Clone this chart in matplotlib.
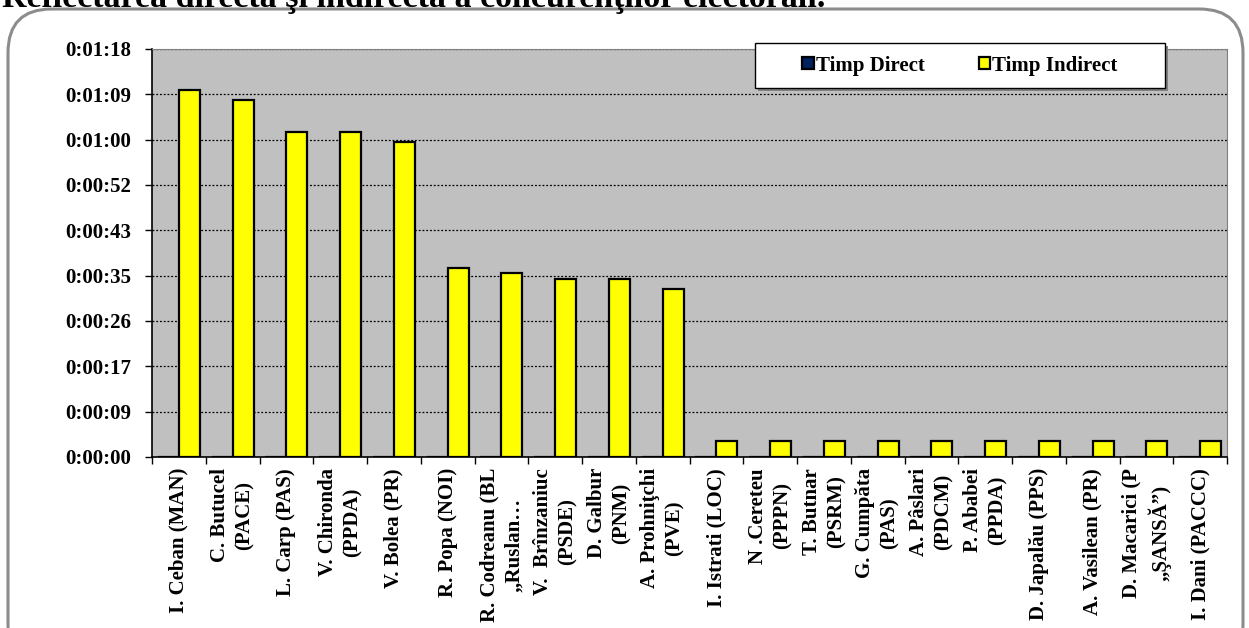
import numpy as np
import matplotlib
matplotlib.use("Agg")
import matplotlib.pyplot as plt
from matplotlib.patches import FancyBboxPatch, Rectangle
from matplotlib.ticker import FixedLocator, FuncFormatter

plt.rcParams['font.family'] = ['Liberation Serif', 'DejaVu Serif']
plt.rcParams['font.weight'] = 'bold'

title = "Reflectarea directă şi indirectă a concurenţilor electorali."
candidates = [
    "I. Ceban (MAN)", "C. Butucel\n(PACE)", "L. Carp (PAS)", "V. Chironda\n(PPDA)",
    "V. Bolea (PR)", "R. Popa (NOI)", "R. Codreanu (BL\n„Ruslan…", "V.  Brînzaniuc\n(PSDE)",
    "D. Galbur\n(PNM)", "A. Prohniţchi\n(PVE)", "I. Istrati (LOC)", "N .Cereteu\n(PPPN)",
    "T. Butnar\n(PSRM)", "G. Cumpăta\n(PAS)", "A. Pâslari\n(PDCM)", "P. Ababei\n(PPDA)",
    "D. Japalău (PPS)", "A. Vasilean (PR)", "D. Macarici (P\n„ŞANSĂ”)", "I. Dani (PACCC)",
]
# seconds
timp_direct = [0] * 20
timp_indirect = [70, 68, 62, 62, 60, 36, 35, 34, 34, 32, 3, 3, 3, 3, 3, 3, 3, 3, 3, 3]

fig = plt.figure(figsize=(12.49, 6.28), dpi=100)
W, H = 1249, 628

# outer rounded frame
frame = FancyBboxPatch((8 / W, -40 / H), 1235 / W, (628 - 9 + 40) / H,
                       boxstyle="round,pad=0,rounding_size=0.035",
                       transform=fig.transFigure, fill=False,
                       edgecolor='#8c8c8c', linewidth=2.2, mutation_aspect=W / H)
fig.patches.append(frame)

fig.text(2 / W, 1 - 7 / H, title, fontsize=24.5, fontweight='bold',
         ha='left', va='baseline')

ax = fig.add_axes([152 / W, (628 - 457) / H, (1227 - 152) / W, (457 - 49) / H])
ax.set_facecolor('#c0c0c0')

x = np.arange(len(candidates))
w = 0.39
ax.bar(x - w / 2, timp_direct, w, color='#002060', edgecolor='black',
       linewidth=1.6, label='Timp Direct', zorder=3)
ax.bar(x + w / 2, timp_indirect, w, color='#ffff00', edgecolor='black',
       linewidth=1.6, label='Timp Indirect', zorder=3)

step = 8.64
yt = np.arange(10) * step
ax.set_ylim(0, yt[-1])
ax.set_xlim(-0.5, len(candidates) - 0.5)
ax.yaxis.set_major_locator(FixedLocator(yt))


def fmt(v, pos):
    s = int(round(v))
    return "0:%02d:%02d" % (s // 60, s % 60)


ax.yaxis.set_major_formatter(FuncFormatter(fmt))
ax.grid(axis='y', color='black', linestyle=(0, (1.5, 1.5)), linewidth=0.9, zorder=1)

ax.set_xticks(x)
ax.set_xticklabels(candidates, rotation=90, ha='center', va='top',
                   multialignment='center', fontsize=15, linespacing=1.3)
ax.set_xticks(np.arange(len(candidates) + 1) - 0.5, minor=True)
ax.tick_params(axis='x', which='major', length=0, pad=8)
ax.tick_params(axis='x', which='minor', length=5, width=1, direction='out')
ax.tick_params(axis='y', length=5, width=1, direction='out', pad=10, labelsize=15)
for lab in ax.get_yticklabels() + ax.get_xticklabels():
    lab.set_fontweight('bold')

ax.spines['left'].set_color('black')
ax.spines['bottom'].set_color('black')
ax.spines['left'].set_linewidth(1.2)
ax.spines['bottom'].set_linewidth(1.2)
ax.spines['top'].set_color('#808080')
ax.spines['right'].set_color('#808080')

# legend box with shadow
lx0, ly0, lx1, ly1 = 755, 43, 1165, 88
shadow = Rectangle(((lx0 + 3) / W, 1 - (ly1 + 3) / H), (lx1 - lx0) / W, (ly1 - ly0) / H,
                   transform=fig.transFigure, facecolor='#808080', edgecolor='none', zorder=5)
box = Rectangle((lx0 / W, 1 - ly1 / H), (lx1 - lx0) / W, (ly1 - ly0) / H,
                transform=fig.transFigure, facecolor='white', edgecolor='black',
                linewidth=1, zorder=6)
fig.patches.extend([shadow, box])
leg = fig.legend(loc='center', bbox_to_anchor=((lx0 + lx1) / 2 / W, 1 - (ly0 + ly1) / 2 / H),
                 ncol=2, frameon=False, prop={'weight': 'bold', 'size': 15},
                 handlelength=0.55, handleheight=0.55, handletextpad=0.1,
                 columnspacing=2.6)
leg.set_zorder(7)

fig.savefig("out.png", dpi=100)
